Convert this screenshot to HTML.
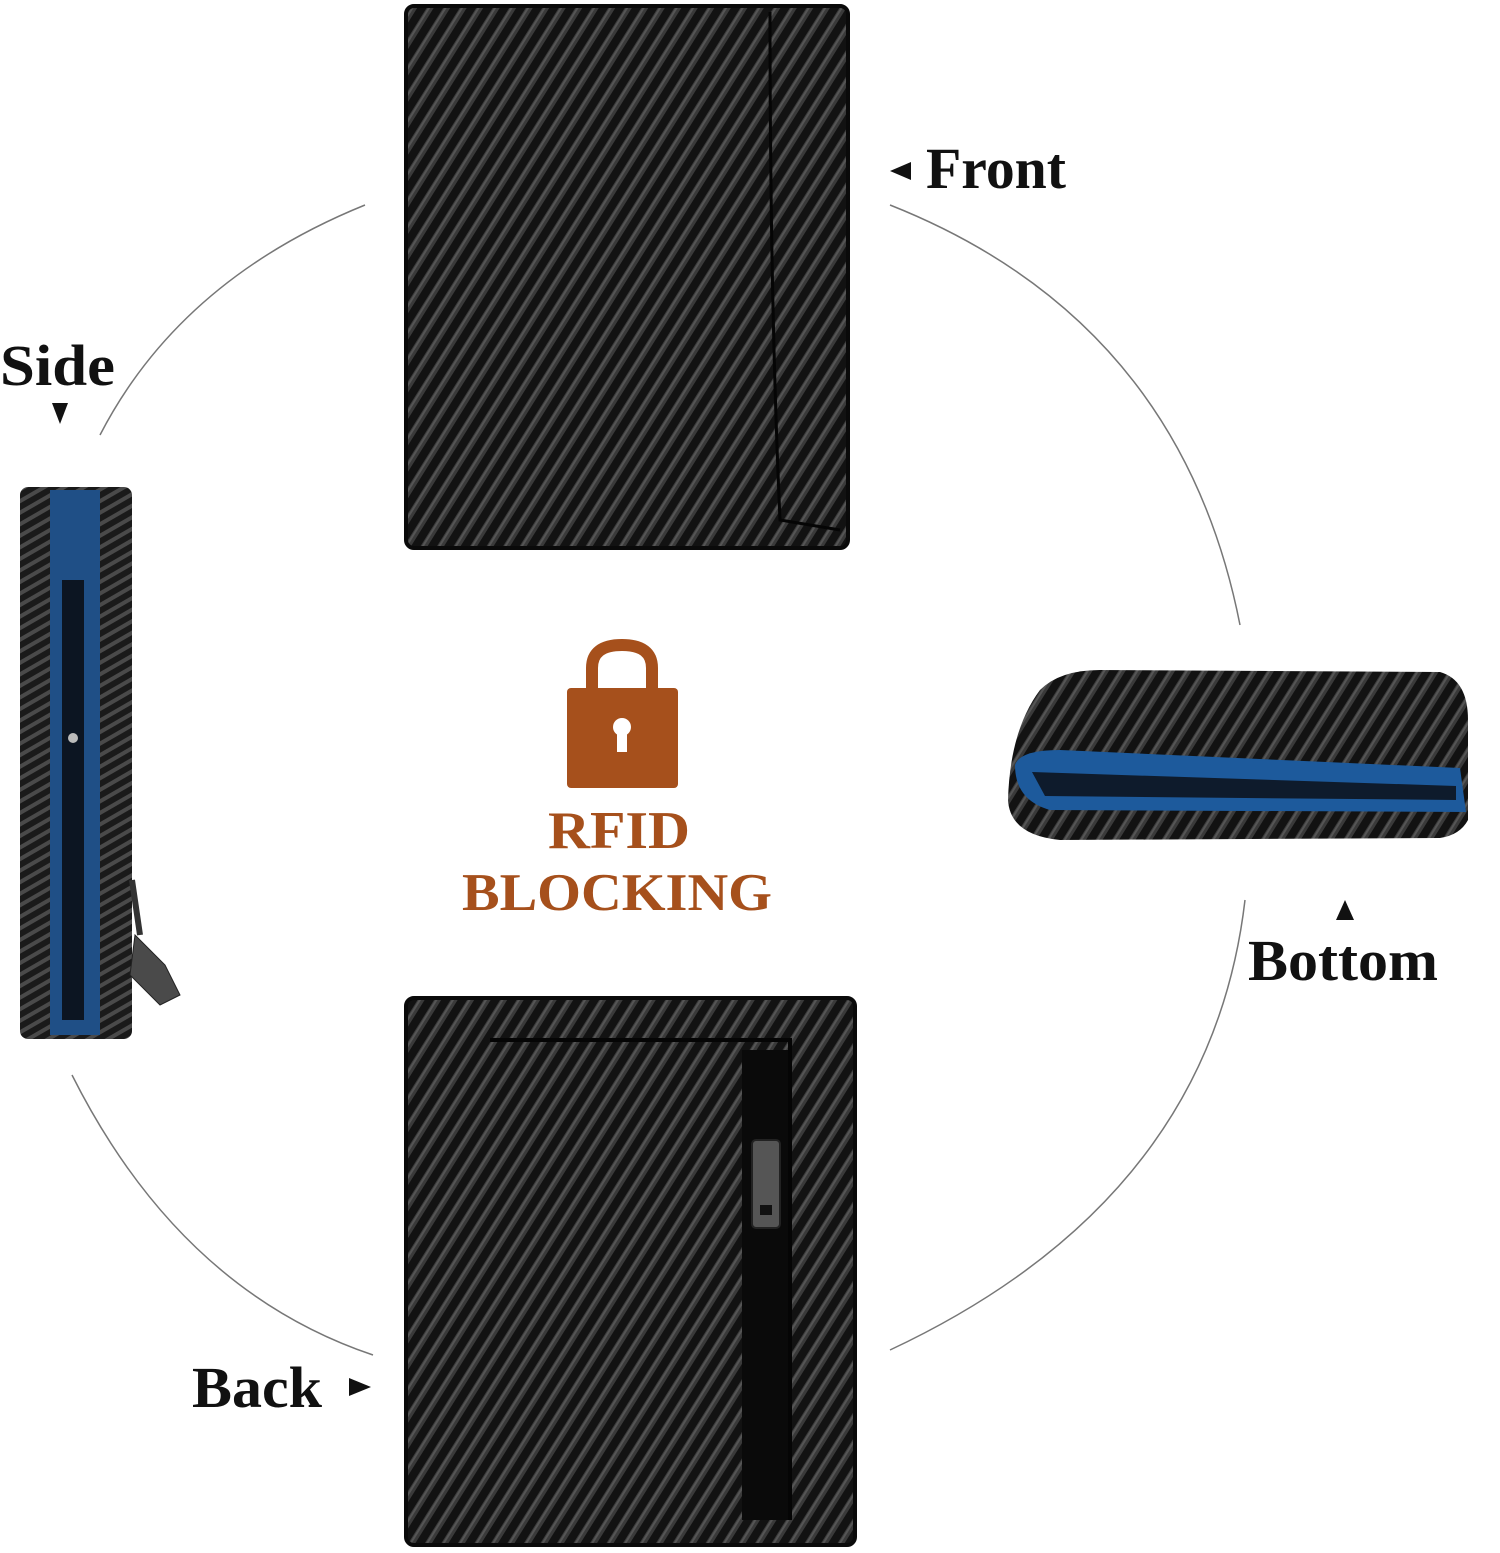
<!DOCTYPE html>
<html><head><style>
html,body{margin:0;padding:0;background:#fff;width:1500px;height:1553px;overflow:hidden}
svg{display:block}
text{font-family:"Liberation Serif",serif;font-weight:bold}
</style></head><body>
<svg width="1500" height="1553" viewBox="0 0 1500 1553" xmlns="http://www.w3.org/2000/svg">
<defs>
<pattern id="cf" width="14" height="14" patternUnits="userSpaceOnUse" patternTransform="rotate(-58)">
<rect width="14" height="14" fill="#121212"/>
<rect x="0" y="2" width="14" height="6" fill="#3a3a3a"/>
<rect x="0" y="3" width="14" height="2" fill="#555"/>
</pattern>
<pattern id="cfs" width="10" height="10" patternUnits="userSpaceOnUse" patternTransform="rotate(-30)">
<rect width="10" height="10" fill="#1a1a1a"/>
<rect x="0" y="2" width="10" height="4" fill="#4a4a4a"/>
</pattern>
</defs>
<g fill="none" stroke="#777" stroke-width="1.5">
<path d="M365,205 Q180,280 100,435"/>
<path d="M890,205 Q1180,320 1240,625"/>
<path d="M72,1075 Q180,1290 373,1355"/>
<path d="M890,1350 Q1210,1200 1245,900"/>
</g>
<rect x="406" y="6" width="442" height="542" rx="8" fill="url(#cf)"/>
<rect x="406" y="6" width="442" height="542" rx="8" fill="none" stroke="#0a0a0a" stroke-width="4"/>
<path d="M770,12 Q770,300 780,520 L840,530" fill="none" stroke="#050505" stroke-width="3"/>
<rect x="406" y="998" width="449" height="547" rx="8" fill="url(#cf)"/>
<rect x="406" y="998" width="449" height="547" rx="8" fill="none" stroke="#0a0a0a" stroke-width="4"/>
<path d="M490,1040 L790,1040 L790,1520" fill="none" stroke="#050505" stroke-width="4"/>
<rect x="742" y="1050" width="46" height="470" fill="#0a0a0a"/>
<rect x="752" y="1140" width="28" height="88" rx="4" fill="#555" stroke="#222" stroke-width="2"/>
<rect x="760" y="1205" width="12" height="10" fill="#111"/>
<rect x="20" y="487" width="112" height="552" rx="8" fill="url(#cfs)"/>
<rect x="50" y="490" width="50" height="545" fill="#1f4f86"/>
<rect x="62" y="580" width="22" height="440" fill="#0c1522"/>
<rect x="100" y="500" width="30" height="530" fill="url(#cfs)"/>
<circle cx="73" cy="738" r="5" fill="#bbb"/>
<path d="M132,880 L140,935" stroke="#333" stroke-width="6"/>
<path d="M135,935 L165,965 L180,995 L160,1005 L130,975 Z" fill="#4a4a4a" stroke="#222"/>
<path d="M1040,690 Q1060,670 1100,670 L1440,672 Q1468,680 1468,720 L1468,820 Q1460,835 1440,838 L1060,840 Q1010,835 1008,800 Q1010,730 1040,690 Z" fill="url(#cf)"/>
<path d="M1015,765 Q1020,750 1060,750 L1460,768 L1466,812 L1050,810 Q1015,800 1015,765 Z" fill="#1d5a9c"/>
<path d="M1032,772 L1456,786 L1456,800 L1045,796 Z" fill="#0e1b2c"/>
<path d="M592,692 L592,668 Q592,645 622,645 Q652,645 652,668 L652,692" fill="none" stroke="#a6501c" stroke-width="12"/>
<rect x="567" y="688" width="111" height="100" rx="4" fill="#a6501c"/>
<circle cx="622" cy="727" r="9" fill="#fff"/>
<rect x="617" y="727" width="10" height="25" fill="#fff"/>
<text x="619" y="848" font-size="53" fill="#a6501c" text-anchor="middle" textLength="142" lengthAdjust="spacingAndGlyphs">RFID</text>
<text x="617" y="910" font-size="53" fill="#a6501c" text-anchor="middle" textLength="310" lengthAdjust="spacingAndGlyphs">BLOCKING</text>
<text x="926" y="188" font-size="58" fill="#111" textLength="140" lengthAdjust="spacingAndGlyphs">Front</text>
<polygon points="890,171 911,162 911,180" fill="#111"/>
<text x="0" y="385" font-size="58" fill="#111" textLength="115" lengthAdjust="spacingAndGlyphs">Side</text>
<polygon points="52,403 68,403 60,424" fill="#111"/>
<text x="1248" y="980" font-size="58" fill="#111" textLength="190" lengthAdjust="spacingAndGlyphs">Bottom</text>
<polygon points="1336,920 1354,920 1345,900" fill="#111"/>
<text x="192" y="1407" font-size="58" fill="#111" textLength="130" lengthAdjust="spacingAndGlyphs">Back</text>
<polygon points="349,1378 371,1387 349,1396" fill="#111"/>
</svg>
</body></html>
